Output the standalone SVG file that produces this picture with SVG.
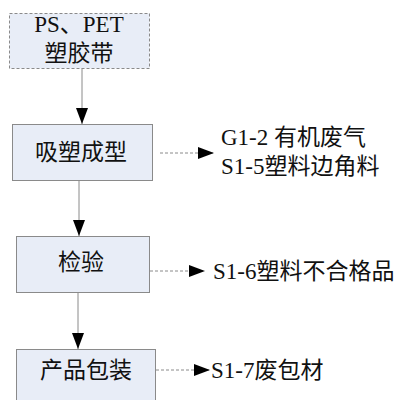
<svg xmlns="http://www.w3.org/2000/svg" width="401" height="400" viewBox="0 0 401 400">
<style>
.box{fill:#e8edf7;stroke:#8a8a8a;stroke-width:1}
.dbox{fill:#e8edf7;stroke:#8a8a8a;stroke-width:1;stroke-dasharray:3 2}
.t{font-family:"Liberation Serif","Noto Sans CJK SC",serif;font-size:23px;fill:#111}
.c{text-anchor:middle}
.ln{stroke:#8a8a8a;stroke-width:1;fill:none}
.dl{stroke:#8a8a8a;stroke-width:1;fill:none;stroke-dasharray:3 2}
</style>
<defs>
<marker id="ah" markerWidth="16" markerHeight="12" refX="16" refY="6" orient="auto" markerUnits="userSpaceOnUse">
<path d="M0,0 L16,6 L0,12 Z" fill="#000"/>
</marker>
</defs>
<g id="n1">
<rect class="dbox" x="9.5" y="13.5" width="140" height="55"/>
<text class="t c" x="79" y="32">PS、PET</text>
<text class="t c" x="79" y="61">塑胶带</text>
</g>
<g id="n2">
<rect class="box" x="12.5" y="124.5" width="140" height="56"/>
<text class="t c" x="81" y="160">吸塑成型</text>
</g>
<g id="n3">
<rect class="box" x="16.5" y="236.5" width="133" height="56"/>
<text class="t c" x="81" y="270">检验</text>
</g>
<g id="n4">
<rect class="box" x="16.5" y="349.5" width="139" height="60"/>
<text class="t c" x="86" y="378">产品包装</text>
</g>
<g id="labels">
<text class="t" x="221" y="145">G1-2 有机废气</text>
<text class="t" x="221" y="174">S1-5塑料边角料</text>
<text class="t" x="213" y="279">S1-6塑料不合格品</text>
<text class="t" x="211" y="378">S1-7废包材</text>
</g>
<g id="connectors">
<line class="ln" x1="82" y1="68.5" x2="82" y2="124" marker-end="url(#ah)"/>
<line class="ln" x1="79" y1="180.5" x2="79" y2="236" marker-end="url(#ah)"/>
<line class="ln" x1="78" y1="292.5" x2="78" y2="349" marker-end="url(#ah)"/>
<line class="dl" x1="160" y1="153" x2="214" y2="153" marker-end="url(#ah)"/>
<line class="dl" x1="150" y1="271" x2="205" y2="271" marker-end="url(#ah)"/>
<line class="dl" x1="156" y1="370" x2="210" y2="370" marker-end="url(#ah)"/>
</g>
</svg>
